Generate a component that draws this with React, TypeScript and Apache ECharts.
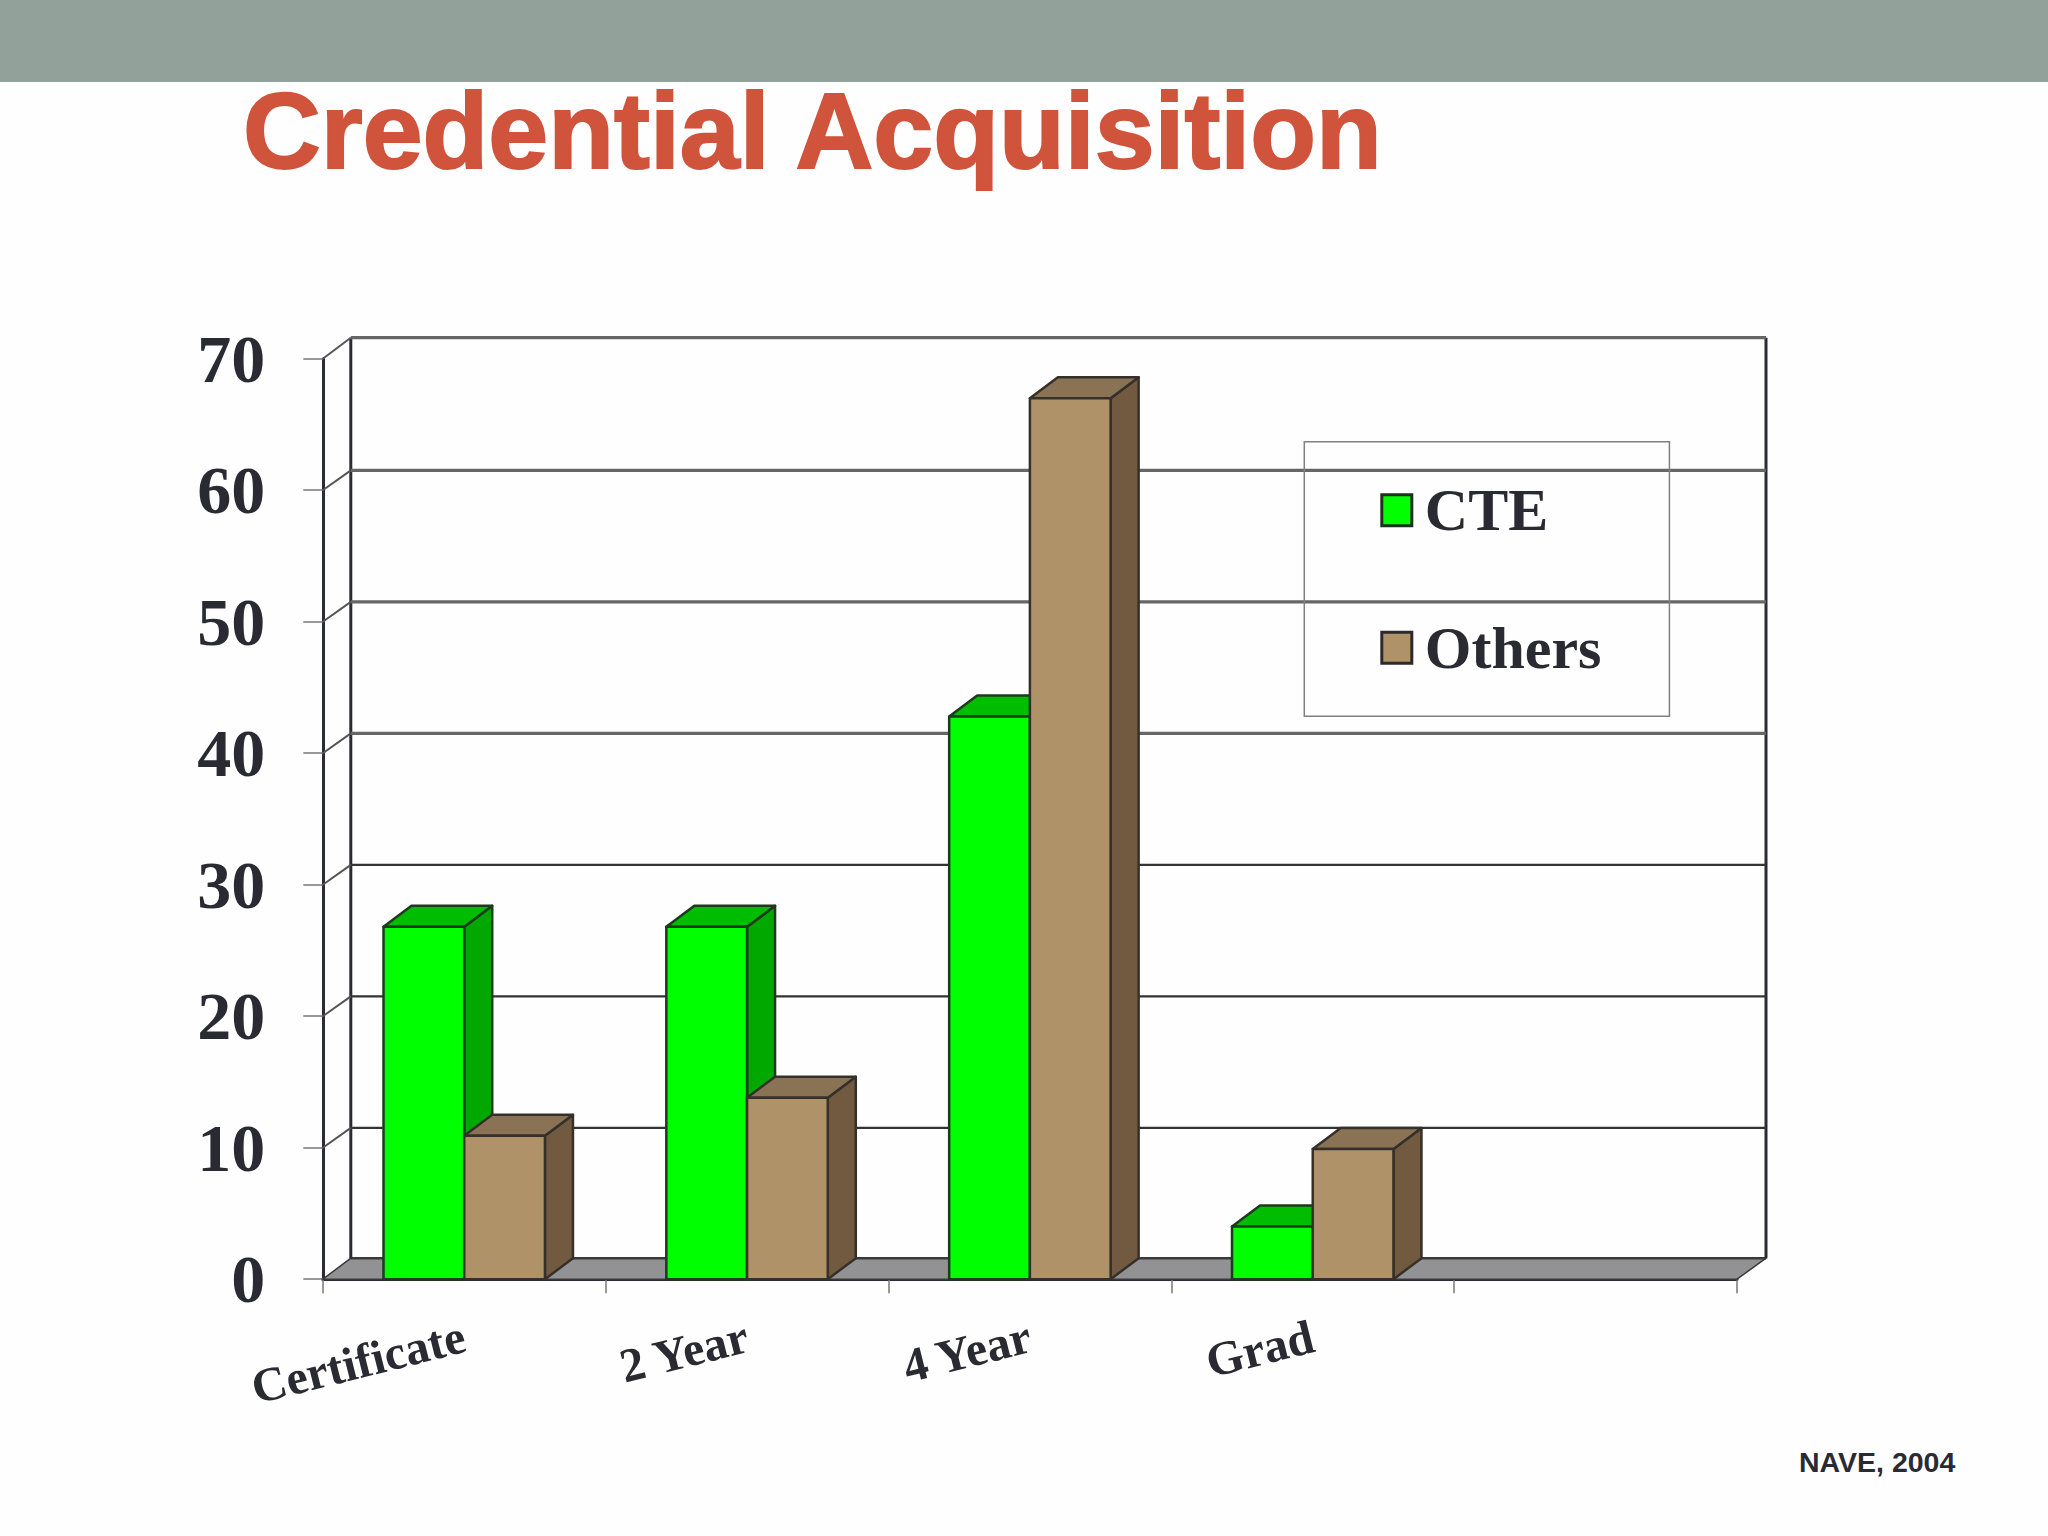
import React, { useEffect, useRef } from "react";
import * as echarts from "echarts";

const categories = ["Certificate", "2 Year", "4 Year", "Grad", ""];
const cteValues = [26.8, 26.8, 42.8, 4.0];
const otherValues = [10.9, 13.8, 67.0, 9.9];
const gridValues = [0, 10, 20, 30, 40, 50, 60, 70];

const INK = "#2a2a32";
const DEPTH_X = 28;
const DEPTH_Y = -21;
const GRID_DEPTH_Y = -19.8;
const BAR_SHARE = 0.2854;

const poly = (points: number[][], fill: string, stroke = "#2b2b2b", lineWidth = 2.5) => ({
  type: "polygon",
  shape: { points },
  style: { fill, stroke, lineWidth, lineJoin: "round" },
});

const barRenderer = (side: -1 | 1, front: string, top: string, flank: string, edge: string) => (params: any, api: any) => {
  const cat = api.value(0);
  const val = api.value(1);
  const base = api.coord([cat, 0]);
  const head = api.coord([cat, val]);
  const w = api.size([1, 0])[0] * BAR_SHARE;
  const x0 = side < 0 ? base[0] - w : base[0];
  const x1 = x0 + w;
  const y0 = base[1];
  const y1 = head[1];
  return {
    type: "group",
    children: [
      poly([[x1, y0], [x1 + DEPTH_X, y0 + DEPTH_Y], [x1 + DEPTH_X, y1 + DEPTH_Y], [x1, y1]], flank, edge),
      poly([[x0, y1], [x1, y1], [x1 + DEPTH_X, y1 + DEPTH_Y], [x0 + DEPTH_X, y1 + DEPTH_Y]], top, edge),
      poly([[x0, y0], [x1, y0], [x1, y1], [x0, y1]], front, edge),
    ],
  };
};

const wallRenderer = (params: any, api: any) => {
  const val = api.value(0);
  const p = api.coord([0, val]);
  const cs = params.coordSys;
  const left = cs.x;
  const right = cs.x + cs.width;
  const y = p[1];
  const children: any[] = [];
  const line = (x1: number, y1: number, x2: number, y2: number, stroke: string, lineWidth: number) => ({
    type: "line",
    shape: { x1, y1, x2, y2 },
    style: { stroke, lineWidth },
  });
  if (val === 0) {
    children.push(
      poly(
        [[left, y], [left + DEPTH_X, y + DEPTH_Y], [right + DEPTH_X + 1, y + DEPTH_Y], [right, y]],
        "#929194",
        "#3a3a3a",
        1.5,
      ),
    );
    children.push(line(left + DEPTH_X, y + DEPTH_Y, right + DEPTH_X + 1, y + DEPTH_Y, "#3a3a3a", 2.5));
    children.push(line(left + DEPTH_X, cs.y + DEPTH_Y, left + DEPTH_X, y + DEPTH_Y, "#2b2b33", 3));
    children.push(line(right + DEPTH_X + 1, cs.y + DEPTH_Y, right + DEPTH_X + 1, y + DEPTH_Y, "#2b2b33", 3));
  } else {
    const dy = val === 70 ? DEPTH_Y : GRID_DEPTH_Y;
    children.push(line(left + DEPTH_X, y + dy, right + DEPTH_X + 1, y + dy, val >= 40 ? "#666" : "#333", val >= 40 ? 3.2 : 2.4));
    children.push(line(left, y, left + DEPTH_X, y + dy, "#555", 2));
  }
  return { type: "group", children };
};

export default function App() {
  const ref = useRef<HTMLDivElement>(null);
  useEffect(() => {
    document.body.style.margin = "0";
    const chart = echarts.init(ref.current!, null, { renderer: "svg" });
    chart.setOption({
      animation: false,
      backgroundColor: "#fefefe",
      title: [
        {
          text: "Credential Acquisition",
          left: 243,
          top: 76.5,
          padding: 0,
          textStyle: {
            fontFamily: "Liberation Sans",
            fontWeight: "bold",
            fontSize: 107.7,
            color: "#d0533c",
            textBorderColor: "#d0533c",
            textBorderWidth: 2,
          },
        },
        {
          text: "NAVE, 2004",
          left: 1799,
          top: 1447,
          padding: 0,
          textStyle: { fontFamily: "Liberation Sans", fontWeight: "bold", fontSize: 28.5, color: INK },
        },
      ],
      graphic: [
        { type: "rect", left: 0, top: 0, z: 0, shape: { width: 2048, height: 82 }, style: { fill: "#92a199" } },
      ],
      grid: { left: 322.8, top: 358.7, width: 1414.2, height: 920.5, containLabel: false },
      legend: {
        orient: "vertical",
        left: 1304.3,
        top: 441.7,
        padding: [38.5, 68, 38.5, 76],
        itemGap: 77.5,
        itemWidth: 30,
        itemHeight: 31,
        borderColor: "#808080",
        borderWidth: 1.5,
        backgroundColor: "transparent",
        selectedMode: false,
        textStyle: { fontFamily: "Liberation Serif", fontWeight: "bold", fontSize: 60, color: INK, padding: [0, 0, 5, 8] },
        data: [
          { name: "CTE", icon: "rect", itemStyle: { color: "#00ff00", borderColor: "#20301f", borderWidth: 3 } },
          { name: "Others", icon: "rect", itemStyle: { color: "#b09268", borderColor: "#2b2b2b", borderWidth: 3 } },
        ],
      },
      xAxis: {
        type: "category",
        data: categories,
        axisLine: { show: true, lineStyle: { color: "#2b2b33", width: 3 } },
        axisTick: { show: true, length: 14, lineStyle: { color: "#777", width: 1.5 } },
        axisLabel: {
          rotate: 14,
          margin: 56,
          interval: 0,
          fontFamily: "Liberation Serif",
          fontWeight: "bold",
          fontSize: 48,
          color: INK,
        },
      },
      yAxis: {
        type: "value",
        min: 0,
        max: 70,
        interval: 10,
        axisLine: { show: true, lineStyle: { color: "#2b2b33", width: 3 } },
        axisTick: { show: true, length: 19.5, lineStyle: { color: "#777", width: 1.5 } },
        splitLine: { show: false },
        axisLabel: {
          margin: 57.5,
          fontFamily: "Liberation Serif",
          fontWeight: "bold",
          fontSize: 68,
          color: INK,
        },
      },
      series: [
        {
          type: "custom",
          name: "walls",
          z: 1,
          clip: false,
          silent: true,
          renderItem: wallRenderer,
          data: gridValues.map((v) => [v]),
          encode: { y: 0 },
        },
        {
          type: "custom",
          name: "CTE",
          z: 3,
          clip: false,
          itemStyle: { color: "#00ff00" },
          renderItem: barRenderer(-1, "#00ff00", "#00bd00", "#00a800", "#1c3a1c"),
          data: cteValues.map((v, i) => [i, v]),
          encode: { x: 0, y: 1 },
        },
        {
          type: "custom",
          name: "Others",
          z: 4,
          clip: false,
          itemStyle: { color: "#b09268" },
          renderItem: barRenderer(1, "#b09268", "#8a7355", "#715a40", "#36302a"),
          data: otherValues.map((v, i) => [i, v]),
          encode: { x: 0, y: 1 },
        },
      ],
    });
    return () => chart.dispose();
  }, []);
  return <div ref={ref} style={{ width: 2048, height: 1536 }} />;
}
